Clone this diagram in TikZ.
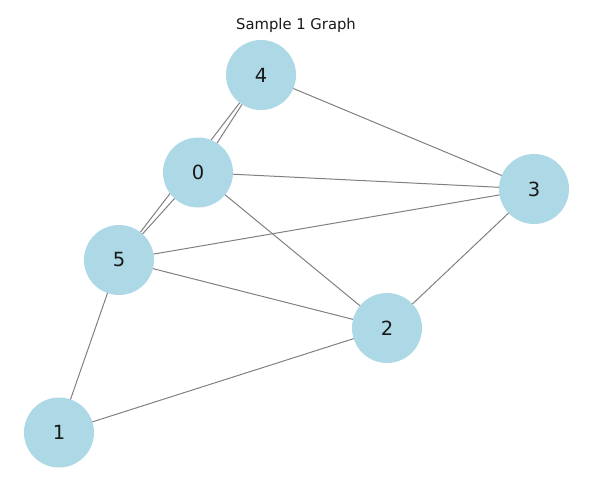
\documentclass[tikz,border=0pt]{standalone}
\usepackage{fontspec}
\setmainfont{DejaVu Sans}
\usetikzlibrary{backgrounds}
\definecolor{nodeblue}{HTML}{ADD8E6}
\definecolor{edgegray}{HTML}{808080}
\begin{document}
\begin{tikzpicture}[x=1pt,y=-1pt,
  gnode/.style={circle,fill=nodeblue,draw=none,minimum size=70pt,inner sep=0pt,font=\fontsize{19.5}{19.5}\selectfont,text=black!90},
  gedge/.style={draw=edgegray,line width=1pt}]
\useasboundingbox (0,0) rectangle (593,477);
\node[font=\fontsize{14.8}{14.8}\selectfont,text=black!90] (title) at (296,25) {Sample 1 Graph};
\node[gnode] (n4) at (261,75) {4};
\node[gnode] (n0) at (198,172.5) {0};
\node[gnode] (n3) at (534,189) {3};
\node[gnode] (n5) at (119,260) {5};
\node[gnode] (n2) at (387,328) {2};
\node[gnode] (n1) at (59,432.5) {1};
\begin{pgfonlayer}{background}
\draw[gedge] (n4.center) -- (n0.center);
\draw[gedge] (n4.center) -- (n5.center);
\draw[gedge] (n4.center) -- (n3.center);
\draw[gedge] (n0.center) -- (n5.center);
\draw[gedge] (n0.center) -- (n3.center);
\draw[gedge] (n0.center) -- (n2.center);
\draw[gedge] (n5.center) -- (n3.center);
\draw[gedge] (n5.center) -- (n2.center);
\draw[gedge] (n5.center) -- (n1.center);
\draw[gedge] (n1.center) -- (n2.center);
\draw[gedge] (n2.center) -- (n3.center);
\end{pgfonlayer}
\end{tikzpicture}
\end{document}
